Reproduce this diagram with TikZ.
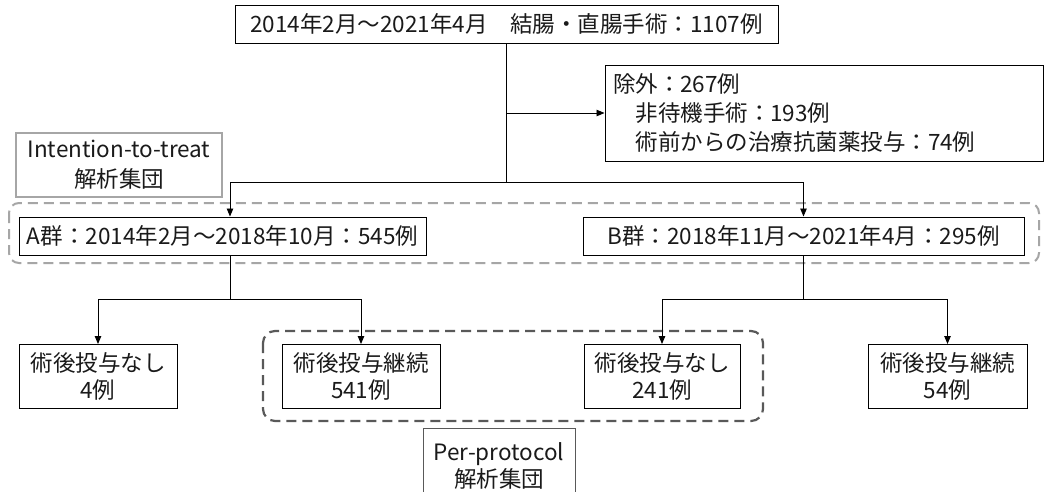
\documentclass[tikz,border=0pt]{standalone}
\usepackage{fontspec}
\setmainfont{Noto Sans CJK JP}
\usetikzlibrary{arrows.meta}
\definecolor{txt}{HTML}{1A1A1A}
\definecolor{lgray}{HTML}{A6A6A6}
\definecolor{dgray}{HTML}{595959}
\tikzset{
  box/.style={draw=black, line width=1pt, inner sep=0pt, align=center, text=txt,
    font=\fontsize{22.5}{27}\selectfont},
  conn/.style={line width=0.9pt, black},
  arr/.style={conn, -{Triangle[length=8pt,width=6.5pt]}},
  ittdash/.style={draw=lgray, line width=2pt, dash pattern=on 10pt off 6pt, rounded corners=10pt},
  ppdash/.style={draw=dgray, line width=2.2pt, dash pattern=on 10pt off 6pt, rounded corners=12pt},
}
\begin{document}
\begin{tikzpicture}[x=1pt,y=-1pt]
\clip (0,0) rectangle (1048,491);
\fill[white] (0,0) rectangle (1048,491);

% dashed groups
\draw[ittdash] (9,203) rectangle (1039,263);
\draw[ppdash] (263,331) rectangle (763,421);

% nodes
\node[box, minimum width=543pt, minimum height=38pt] (top) at (506.5,24)
  {2014年2月～2021年4月\quad 結腸・直腸手術：1107例};
\node[box, minimum width=438pt, minimum height=96pt, text width=422pt, align=left,
      font=\fontsize{22.5}{29}\selectfont] (excl) at (824,113)
  {除外：267例\\\hspace*{1em}非待機手術：193例\\\hspace*{1em}術前からの治療抗菌薬投与：74例};
\node[box, draw=lgray, line width=1.6pt, minimum width=206pt, minimum height=64pt,
      font=\fontsize{22.5}{30}\selectfont] (itt) at (119,165)
  {Intention-to-treat\\解析集団};
\node[box, minimum width=407pt, minimum height=38pt] (A) at (222.5,236)
  {A群：2014年2月～2018年10月：545例};
\node[box, minimum width=441pt, minimum height=38pt] (B) at (803.5,236)
  {B群：2018年11月～2021年4月：295例};
\node[box, minimum width=158pt, minimum height=64pt] (c1) at (98,376.5) {術後投与なし\\4例};
\node[box, minimum width=158pt, minimum height=64pt] (c2) at (361,376.5) {術後投与継続\\541例};
\node[box, minimum width=156pt, minimum height=64pt] (c3) at (662,376.5) {術後投与なし\\241例};
\node[box, minimum width=159pt, minimum height=64pt] (c4) at (947.5,376.5) {術後投与継続\\54例};
\node[box, draw=dgray, line width=1pt, minimum width=152pt, minimum height=76pt] (pp) at (499,466)
  {Per-protocol\\解析集団};

% connectors
\coordinate (j1) at (506.5,182);
\coordinate (aA) at (230,182);
\coordinate (jA) at (230,299);
\coordinate (jB) at (803.5,299);
\draw[conn] (top.south) -- (j1);
\draw[arr] (top.south |- excl.west) -- (excl.west);
\draw[arr] (j1) -- (aA) -- (aA |- A.north);
\draw[arr] (j1) -| (B.north);
\draw[conn] (aA |- A.south) -- (jA);
\draw[conn] (B.south) -- (jB);
\draw[arr] (jA) -| (c1.north);
\draw[arr] (jA) -| (c2.north);
\draw[arr] (jB) -| (c3.north);
\draw[arr] (jB) -| (c4.north);
\end{tikzpicture}
\end{document}
